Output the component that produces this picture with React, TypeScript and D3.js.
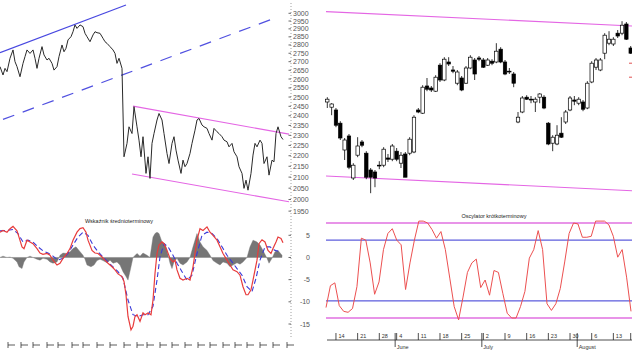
import React from "react";
import * as d3 from "d3";

// ---------- LEFT PANEL: long-term index (log scale) ----------
const priceDays = [0,3,5,7,10,13,15,17,20,23,25,27,30,33,35,37,39,42,44,47,49,52,54,57,59,62,64,66,68,71,73,75,77,80,83,
  85,87,90,93,95,97,100,103,105,107,110,113,115,117,119,122,124,
  127,129,132,134,137,139,141,143,146,148,150,152,154,157,159,162,164,167,169,172,174,176,178,181,183,185,187,190,192,195,
  197,199,202,204,207,209,212,214,217,219,222,224,227,229,232,234,237,239,242,244,246,248,251,253,255,257,260,262,264,267,
  269,272,274,276,278,281,283];
const priceVals = [2671,2623,2661,2642,2720,2770,2700,2671,2613,2690,2730,2770,2749,2770,2720,2661,2720,2790,2740,2710,2720,2690,2651,2671,2730,2800,2759,2780,2831,2851,2882,2925,2903,2925,2914,
  2872,2851,2820,2862,2882,2876,2872,2841,2820,2810,2790,2770,2749,2690,2720,2661,2195,
  2260,2343,2309,2448,2343,2276,2195,2293,2117,2195,2094,2260,2309,2378,2412,2378,2309,2211,2163,2260,
  2293,2227,2179,2117,2179,2148,2163,2211,2260,2326,2378,2386,2352,2343,2335,2309,2276,2335,2318,2309,
  2293,2276,2268,2243,2260,2219,2195,2148,2117,2049,2086,2041,2117,2203,2260,2243,2276,2260,2163,2195,
  2109,2179,2171,2309,2343,2293,2279];
const priceTicks = d3.range(1950, 3001, 50);

const blueTrendDays = [0, 126];
const blueTrendPrices = [2753, 3055];
const dashTrendDays = [3, 277];
const dashTrendPrices = [2381, 2974];
const pinkUpDays = [133, 289];
const pinkUpPrices = [2451, 2306];
const pinkLoDays = [132, 289];
const pinkLoPrices = [2114, 1990];

// ---------- medium-term indicator ----------
const macdDays = [0,3,7,10,13,17,19,22,24,27,30,33,37,40,43,47,50,53,57,60,63,67,70,73,77,80,83,86,88,92,95,98,102,105,108,112,115,118,122,124,
  126,128,131,133,135,137,140,143,145,148,151,153,155,157,159,162,164,167,170,173,175,177,180,183,187,190,193,197,200,203,
  207,210,213,217,220,223,227,230,233,237,240,243,246,248,251,253,257,259,262,265,268,271,273,276,278,281,283];
const macdVals = [5.7,6.1,5.7,6.5,7.0,6.0,4.6,2.4,2.0,3.9,3.5,3.1,2.0,1.0,0.7,0.9,0.5,-0.6,-1.7,-1.3,
  -0.2,0.9,2.0,3.9,5.7,6.5,6.7,5.7,3.9,1.6,1.0,0.9,0.1,-0.6,-1.3,-2.1,-2.8,-3.7,-4.3,-5.4,
  -8.4,-13.3,-16.3,-15.5,-13.3,-12.9,-14.4,-12.5,-12.9,-12.5,-12.9,-9.6,-3.6,0.9,2.8,3.5,3.1,1.6,-0.2,-1.0,
  -0.6,-2.8,-4.7,-5.1,-4.7,-5.1,-2.1,3.9,6.5,6.1,6.9,5.7,5.0,3.9,2.4,0.9,-0.6,-1.7,-2.8,-3.2,
  -4.0,-6.6,-8.4,-8.4,-7.3,-5.1,-0.6,3.1,4.0,3.5,1.6,0.9,2.0,3.5,4.6,4.3,3.3];
const signalDays = [0,7,13,18,23,28,33,38,43,48,53,58,63,68,73,78,83,88,93,98,103,108,113,118,123,128,133,138,143,148,
  153,157,160,164,168,173,177,182,187,192,197,202,207,212,217,222,227,232,237,242,247,252,256,260,265,270,275,280];
const signalVals = [6.0,6.1,6.3,5.4,3.5,3.9,3.5,2.4,1.5,1.0,0.3,-0.6,-0.2,0.9,2.8,4.6,5.7,5.0,2.8,1.3,
  0.1,-1.0,-2.1,-3.2,-4.7,-9.6,-12.9,-13.3,-12.9,-12.9,-11.0,-5.1,0.1,3.1,2.4,0.5,-1.3,-3.2,-5.1,-4.0,
  0.9,5.0,5.7,5.4,4.3,2.4,0.5,-1.0,-2.5,-4.0,-6.6,-7.7,-4.7,-0.6,2.4,2.4,1.6,1.3];
const histDays = [0,3,7,10,13,17,19,22,24,27,30,33,37,40,43,47,50,53,57,60,63,67,70,73,76,79,83,85,87,91,
  94,97,100,103,107,110,113,117,120,123,126,128,131,133,137,140,143,147,150,153,155,157,159,162,165,167,170,172,174,177,
  180,183,187,190,193,197,200,203,207,210,213,217,220,223,227,230,233,237,240,243,247,250,253,257,260,263,267,269,272,275,278,282];
const histVals = [0,0.3,0,0.1,-0.2,-1.0,-2.1,-2.5,-1.0,0,0.3,0,-0.4,-0.6,-0.2,-0.4,-1.0,-1.3,-1.0,0.5,
  1.0,0.9,1.3,2.0,2.4,1.6,0.5,-0.4,-1.7,-2.1,-1.7,-0.7,-0.4,-0.7,-1.2,-0.6,-1.3,-1.0,-1.7,-3.2,
  -4.3,-5.1,-2.1,0,0.9,0.3,1.0,0.5,0,4.6,5.4,5.7,5.4,3.5,3.1,1.6,-1.3,-2.5,-1.0,-0.2,
  -1.3,-1.7,-1.0,0,2.4,5.4,3.5,2.4,1.6,0.5,-0.7,-1.3,-1.7,-1.0,-1.3,-2.1,-1.7,-1.2,-1.5,-1.0,
  0,2.4,3.9,3.5,2.8,1.6,-0.2,-1.3,-0.2,1.3,1.6,0.5];
const macdTicks = [5, 0, -5, -10, -15];
const leftAxisDays = [8,21,33,47,58,72,83,97,110,124,137,147,160,172,185,198,210,223,235,247,260,273,287];

// ---------- RIGHT PANEL: daily candles ----------
const candleOpen = [2245,2232,2225,2192,2125,2160,2055,2112,2145,2117,2075,2070,2087,2087,2105,2102,2122,2092,2115,2117,
  2120,2225,2217,2285,2280,2272,2337,2300,2345,2325,2292,2305,2292,2330,2350,2355,2350,2337,2347,2345,
  2377,2345,2322,2315,2195,2220,2257,2252,2245,2257,2257,2192,2142,2140,2167,2195,2225,2250,2242,2245,
  2230,2295,2332,2325,2367,2392,2390,2417,2417,2440,2380];
const candleHigh = [2257,2242,2230,2197,2155,2165,2092,2157,2150,2122,2080,2075,2097,2132,2115,2140,2130,2120,2120,2157,
  2212,2230,2287,2305,2285,2312,2342,2357,2357,2335,2325,2310,2335,2362,2355,2360,2355,2355,2352,2392,
  2382,2350,2330,2320,2220,2260,2262,2260,2257,2267,2262,2195,2162,2187,2207,2225,2260,2260,2257,2250,
  2297,2347,2355,2355,2417,2422,2407,2425,2447,2445,2385];
const candleLow = [2230,2212,2182,2150,2100,2077,2050,2107,2132,2052,2017,2032,2077,2082,2095,2097,2097,2080,2057,2112,
  2117,2217,2215,2272,2270,2270,2295,2297,2335,2317,2287,2272,2290,2327,2300,2347,2330,2335,2337,2342,
  2342,2312,2315,2282,2192,2217,2250,2242,2220,2242,2227,2137,2122,2137,2155,2190,2222,2237,2237,2222,
  2227,2292,2325,2322,2352,2387,2385,2405,2412,2400,2365];
const candleClose = [2252,2240,2187,2155,2150,2082,2087,2135,2137,2057,2057,2055,2085,2127,2102,2135,2102,2112,2057,2152,
  2207,2220,2282,2277,2275,2307,2300,2352,2340,2322,2320,2275,2330,2357,2315,2352,2332,2350,2342,2372,
  2345,2315,2320,2292,2207,2255,2252,2250,2252,2265,2230,2140,2157,2162,2157,2220,2255,2247,2252,2227,
  2292,2342,2350,2350,2412,2402,2402,2410,2437,2402,2367];
const chanUpIdx = [-0.3, 70.4];
const chanUpVals = [2471, 2435];
const chanLoIdx = [-0.3, 70.4];
const chanLoVals = [2060, 2023];
const edgeMarkVals = [2342, 2307];

// ---------- short-term oscillator ----------
const oscVals = [11,34,37,13,7,6,10,33,84,82,58,25,38,72,89,94,82,77,30,58,
  82,102,102,100,93,84,91,72,42,12,-2,22,48,58,62,32,40,24,50,48,
  26,5,0,0,12,28,63,72,92,72,15,8,15,31,59,89,100,99,85,85,
  86,102,102,102,98,86,64,72,43,7];
const oscOuter = [0, 100];
const oscInner = [18, 82];
const weekIdx = [2,7,12,16,21,26,31,36,41,46,51,56,61,66,70];
const weekLabels = ["14","21","28","4","11","18","25","2","9","16","23","30","6","13",""];
const monthIdx = [16, 36, 58];
const monthLabels = ["June", "July", "August"];

export default function App() {
  const W = 632, H = 356;
  const leftX = d3.scaleLinear().domain([0, 283]).range([0, 283]);
  const priceY = d3.scaleLog().domain([2000, 3000]).range([199.5, 13.3]);
  const macdY = d3.scaleLinear().domain([-15, 5]).range([324, 235.3]);
  const cX = d3.scaleLinear().domain([0, 70]).range([327.3, 630.7]);
  const cY = d3.scaleLinear().domain([2000, 2500]).range([200, 0]);
  const oX = d3.scaleLinear().domain([0, 69]).range([326, 631]);
  const oY = d3.scaleLinear().domain([0, 100]).range([318, 223]);

  const pricePath = d3.line<number>().x((_, i) => leftX(priceDays[i])).y((d) => priceY(d))(priceVals) || "";
  const macdPath = d3.line<number>().x((_, i) => leftX(macdDays[i])).y((d) => macdY(d))(macdVals) || "";
  const sigPath = d3.line<number>().x((_, i) => leftX(signalDays[i])).y((d) => macdY(d))(signalVals) || "";
  const histPath = d3.area<number>().x((_, i) => leftX(histDays[i])).y0(macdY(0)).y1((d) => macdY(d))(histVals) || "";
  const oscPath = d3.line<number>().x((_, i) => oX(i)).y((d) => oY(d))(oscVals) || "";

  const seg = (xs: number[], ys: number[], fx: any, fy: any) => ({ x1: fx(xs[0]), y1: fy(ys[0]), x2: fx(xs[1]), y2: fy(ys[1]) });
  const axisX = 291;
  const font = "Arial, 'Liberation Sans', sans-serif";

  return (
    <div style={{ position: "fixed", left: 0, top: 0, width: W, height: H, background: "#fff" }}>
      <svg width={W} height={H} style={{ display: "block" }} fontFamily={font}>
        <rect x={0} y={0} width={W} height={H} fill="#fff" />
        {/* ----- left top ----- */}
        <line {...seg(blueTrendDays, blueTrendPrices, leftX, priceY)} stroke="#4848e0" strokeWidth={1.2} />
        <line {...seg(dashTrendDays, dashTrendPrices, leftX, priceY)} stroke="#5050e0" strokeWidth={1.2} strokeDasharray="12,9" />
        <line {...seg(pinkUpDays, pinkUpPrices, leftX, priceY)} stroke="#e466e4" strokeWidth={1.1} />
        <line {...seg(pinkLoDays, pinkLoPrices, leftX, priceY)} stroke="#e466e4" strokeWidth={1.1} />
        <path d={pricePath} fill="none" stroke="#2a2a2a" strokeWidth={1} strokeLinejoin="round" />
        <line x1={axisX} x2={axisX} y1={3} y2={338} stroke="#888" strokeWidth={0.8} strokeDasharray="1,2" />
        {priceTicks.map((p) => (
          <g key={p}>
            <line x1={axisX - 2.5} x2={axisX} y1={priceY(p)} y2={priceY(p)} stroke="#444" strokeWidth={0.8} />
            <text x={axisX + 2} y={priceY(p) + 2.5} fontSize={7} fill="#555">{p}</text>
          </g>
        ))}
        {/* ----- left bottom ----- */}
        <text x={119} y={223} fontSize={5.5} fill="#222" textAnchor="middle">Wskaźnik średnioterminowy</text>
        <path d={histPath} fill="#767676" stroke="#767676" strokeWidth={0.4} />
        <path d={sigPath} fill="none" stroke="#3a3ad8" strokeWidth={1.1} strokeDasharray="5,3" />
        <path d={macdPath} fill="none" stroke="#e83c3c" strokeWidth={1.2} />
        {macdTicks.map((v) => (
          <g key={v}>
            <line x1={axisX - 2.5} x2={axisX} y1={macdY(v)} y2={macdY(v)} stroke="#444" strokeWidth={0.8} />
            <text x={310} y={macdY(v) + 2.5} fontSize={7} fill="#555" textAnchor="end">{v}</text>
          </g>
        ))}
        {leftAxisDays.map((d) => (
          <g key={d} stroke="#333" strokeWidth={0.8}>
            <line x1={leftX(d)} x2={leftX(d)} y1={342} y2={348} />
            <line x1={leftX(d)} x2={leftX(d) + 7} y1={345} y2={345} />
          </g>
        ))}
        {/* ----- right top: candles ----- */}
        <line {...seg(chanUpIdx, chanUpVals, cX, cY)} stroke="#e466e4" strokeWidth={1.1} />
        <line {...seg(chanLoIdx, chanLoVals, cX, cY)} stroke="#e466e4" strokeWidth={1.1} />
        {candleOpen.map((o, i) => {
          const c = candleClose[i];
          const x = cX(i);
          const top = cY(Math.max(o, c));
          const bot = cY(Math.min(o, c));
          const up = c >= o;
          return (
            <g key={i}>
              <line x1={x} x2={x} y1={cY(candleHigh[i])} y2={cY(candleLow[i])} stroke="#000" strokeWidth={0.8} />
              <rect x={x - 1.7} y={top} width={3.4} height={Math.max(bot - top, 0.8)} fill={up ? "#fff" : "#000"} stroke="#000" strokeWidth={0.7} />
            </g>
          );
        })}
        {edgeMarkVals.map((v) => (
          <line key={"e" + v} x1={629} x2={632} y1={cY(v)} y2={cY(v)} stroke="#e05050" strokeWidth={1} />
        ))}
        {/* ----- right bottom: oscillator ----- */}
        <text x={494} y={218} fontSize={5.5} fill="#222" textAnchor="middle">Oscylator krótkoterminowy</text>
        {oscOuter.map((v) => (
          <line key={"o" + v} x1={326} x2={632} y1={oY(v)} y2={oY(v)} stroke="#e070e0" strokeWidth={1.3} />
        ))}
        {oscInner.map((v) => (
          <line key={"i" + v} x1={326} x2={632} y1={oY(v)} y2={oY(v)} stroke="#3434d4" strokeWidth={1} />
        ))}
        <path d={oscPath} fill="none" stroke="#ec5050" strokeWidth={1} />
        <line x1={327} x2={632} y1={340} y2={340} stroke="#222" strokeWidth={0.8} />
        {weekIdx.map((i, k) => (
          <g key={"w" + k}>
            <line x1={cX(i)} x2={cX(i)} y1={333} y2={340} stroke="#222" strokeWidth={0.8} />
            <text x={cX(i) + 2.5} y={338} fontSize={5.5} fill="#333">{weekLabels[k]}</text>
          </g>
        ))}
        {monthIdx.map((i, k) => (
          <g key={"m" + k}>
            <line x1={cX(i) - 1.5} x2={cX(i) - 1.5} y1={333} y2={347} stroke="#222" strokeWidth={0.8} />
            <text x={cX(i)} y={348.5} fontSize={5.5} fill="#333">{monthLabels[k]}</text>
          </g>
        ))}
      </svg>
    </div>
  );
}
